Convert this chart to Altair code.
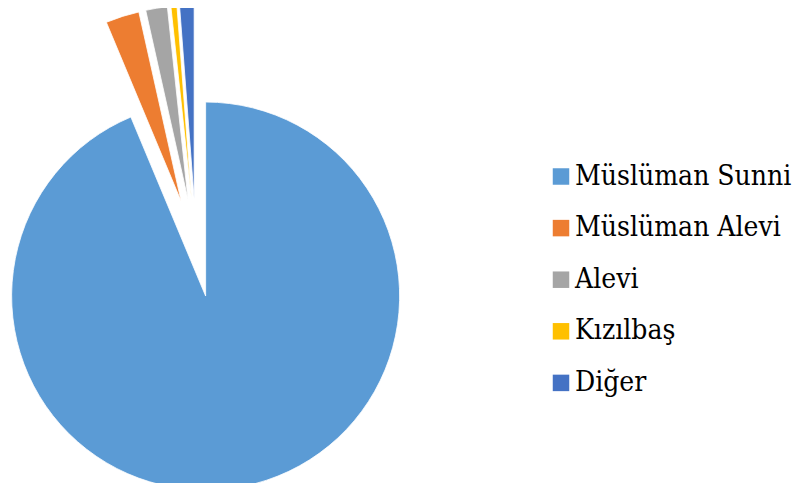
import altair as alt
import pandas as pd

categories = ["Müslüman Sunni", "Müslüman Alevi", "Alevi", "Kızılbaş", "Diğer"]
values = [93.7, 2.8, 1.8, 0.5, 1.2]
colors = ["#5B9BD5", "#ED7D31", "#A5A5A5", "#FFC000", "#4472C4"]

df = pd.DataFrame({"category": categories, "value": values, "order": list(range(len(categories)))})

CX, CY, R, EXPLODE = 188, 240, 194, 49
SERIF = "DejaVu Serif Condensed"

base = (
    alt.Chart(df)
    .transform_window(cum="sum(value)", sort=[alt.SortField("order")], frame=[None, 0])
    .transform_joinaggregate(total="sum(value)")
    .transform_calculate(t1="2*PI*datum.cum/datum.total")
    .transform_calculate(t0="2*PI*(datum.cum-datum.value)/datum.total")
    .transform_calculate(mid="(datum.t0+datum.t1)/2")
    .transform_calculate(px=f"{CX}+{EXPLODE}*sin(datum.mid)")
    .transform_calculate(py=f"{CY}-{EXPLODE}*cos(datum.mid)")
)

chart = (
    base.mark_arc(radius=R, stroke="white", strokeWidth=0.8)
    .encode(
        theta=alt.Theta("t0:Q", scale=None, stack=None),
        theta2="t1:Q",
        x=alt.X("px:Q", scale=None, axis=None),
        y=alt.Y("py:Q", scale=None, axis=None),
        color=alt.Color(
            "category:N",
            scale=alt.Scale(domain=categories, range=colors),
            legend=alt.Legend(
                title=None,
                orient="none",
                legendX=539,
                legendY=154.5,
                padding=0,
                symbolType="square",
                symbolSize=272,
                symbolStrokeWidth=0,
                symbolOpacity=1,
                labelFont=SERIF,
                labelFontSize=28,
                labelColor="#000000",
                labelOffset=0,
                rowPadding=23.6,
                labelLimit=400,
            ),
        ),
        order=alt.Order("order:Q"),
    )
    .properties(width=790, height=475, padding=0, autosize=alt.AutoSizeParams(type="none"))
    .configure_view(stroke=None)
    .configure_legend(labelFont=SERIF)
)

chart.save("out.html", embed_options={"renderer": "svg", "actions": False})
